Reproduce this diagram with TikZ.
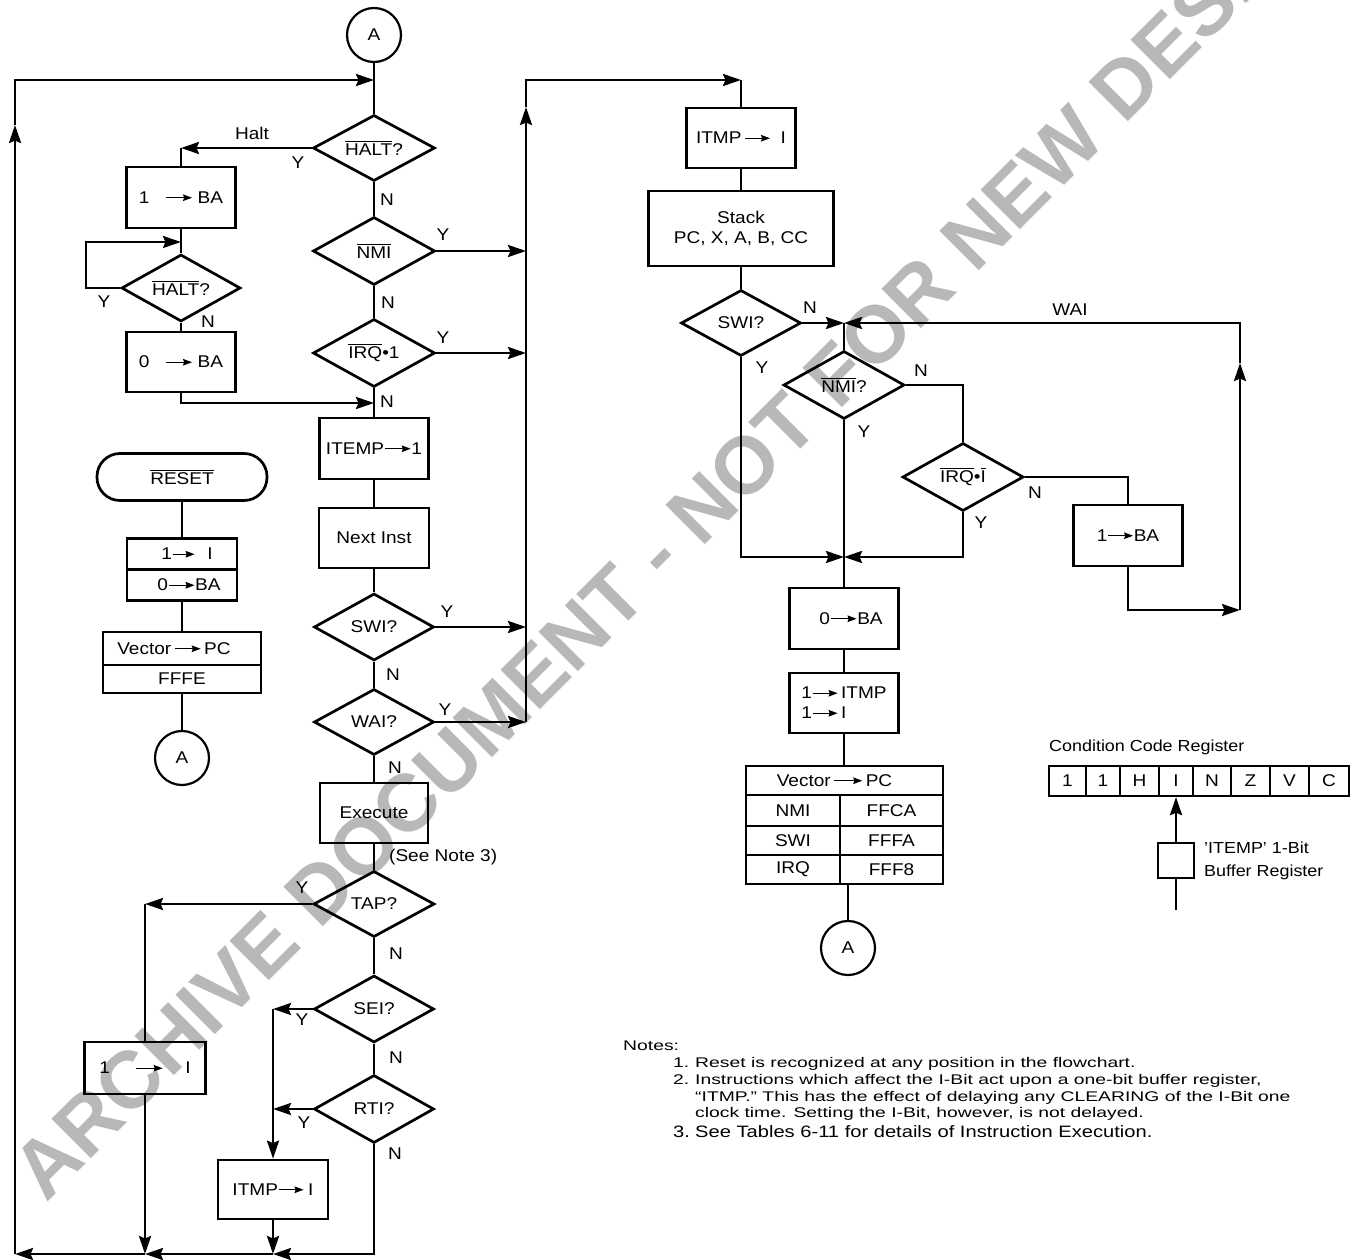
\documentclass[tikz,border=0pt]{standalone}
\usepackage{fontspec}
\setmainfont{Liberation Sans}[FakeStretch=1.12]
\newfontfamily\nfontfam{Liberation Sans}[FakeStretch=1.38]
\newfontfamily\nfontfamb{Liberation Sans}[FakeStretch=1.22]
\newfontfamily\wmfont{Liberation Sans}
\usetikzlibrary{shapes.geometric,arrows.meta,calc}
\newcommand\lbl{\fontsize{17pt}{20pt}\selectfont}
\newcommand\smlbl{\fontsize{16pt}{23pt}\selectfont}
\newcommand\nfont{\nfontfam\fontsize{14pt}{17pt}\selectfont}
\newcommand\nfontb{\nfontfamb\fontsize{16.5pt}{19pt}\selectfont}
\newcommand\ovl[1]{\leavevmode\vbox{\hrule height 1.1pt\kern1.6pt\hbox{#1}}}
\newcommand\tarrow[1]{\tikz[baseline={(0pt,-0.33em)}]\draw[line width=1.3pt,-{Stealth[length=9pt,width=6.5pt,inset=1pt]}] (0pt,0pt)--(#1,0pt);}
\newcommand\dianode[5]{\node[dia, minimum width=#3, minimum height=#4] (#1) at (#2) {}; \node[txt] (#1-t) at (#1) {#5};}
\begin{document}
\begin{tikzpicture}[x=1pt,y=-1pt,
  lw/.style={line width=2.7pt},
  line/.style={lw, line join=miter},
  arr/.style={line, -{Stealth[length=18pt,width=12pt,inset=2.5pt]}},
  box/.style={draw, lw, rectangle, inner sep=0pt, align=center, font=\lbl},
  dia/.style={draw, lw, diamond, inner sep=0pt},
  conn/.style={draw, circle, line width=2.2pt, minimum size=54pt, inner sep=0pt, font=\lbl},
  txt/.style={inner sep=0pt, font=\lbl, align=center},
  yn/.style={inner sep=0pt, font=\lbl},
  cell/.style={draw, line width=2.2pt, rectangle, inner sep=0pt, minimum height=30pt, font=\lbl},
  wm/.style={anchor=base west, rotate=45, inner sep=0pt, text=black!28, font=\wmfont\bfseries\fontsize{81pt}{81pt}\selectfont},
  note/.style={inner sep=0pt, anchor=base west, font=\nfont},
  noteb/.style={inner sep=0pt, anchor=base west, font=\nfontb}
]
\useasboundingbox (0,0) rectangle (1359,1260);
\fill[white] (0,0) rectangle (1359,1260);
% watermark
\node[wm] (wm) at (46,1204) {ARCHIVE DOCUMENT - NOT FOR NEW DESIGN};

% ---------- main column ----------
\node[conn] (A1) at (374,35) {A};
\dianode{halt1}{374,148}{122pt}{66pt}{\ovl{HALT}?}
\dianode{nmi1}{374,251}{122pt}{68pt}{\ovl{NMI}}
\dianode{irq1}{374,353}{122pt}{68pt}{\ovl{IRQ}•1}
\node[box, minimum width=109pt, minimum height=61pt] (itemp) at (374,448.5) {ITEMP\tarrow{26pt}1};
\node[box, minimum width=110pt, minimum height=60pt] (next) at (374,538) {Next Inst};
\dianode{swi1}{374,627}{120pt}{67pt}{SWI?}
\dianode{wai1}{374,722}{120pt}{66pt}{WAI?}
\node[box, minimum width=108pt, minimum height=60pt] (exec) at (374,813) {Execute};
\dianode{tap}{374,904}{121pt}{66pt}{TAP?}
\dianode{sei}{374,1009}{120pt}{67pt}{SEI?}
\dianode{rti}{374,1109}{120pt}{68pt}{RTI?}

\coordinate (jtop) at (374,80);
\coordinate (jba0) at (374,403);
\draw[line] (A1.south) -- (halt1.north);
\draw[line] (halt1.south) -- (nmi1.north);
\draw[line] (nmi1.south) -- (irq1.north);
\draw[line] (irq1.south) -- (itemp.north);
\draw[line] (itemp.south) -- (next.north);
\draw[line] (next.south) -- (swi1.north);
\draw[line] (swi1.south) -- (wai1.north);
\draw[line] (wai1.south) -- (exec.north);
\draw[line] (exec.south) -- (tap.north);
\draw[line] (tap.south) -- (sei.north);
\draw[line] (sei.south) -- (rti.north);

% ---------- halt loop ----------
\node[box, minimum width=109pt, minimum height=61pt] (ba1) at (181,197.5) {1\hspace{16pt}\tarrow{26pt}\hspace{5pt}BA};
\dianode{halt2}{181,288}{119pt}{67pt}{\ovl{HALT}?}
\node[box, minimum width=109pt, minimum height=60pt] (ba0) at (181,362) {0\hspace{16pt}\tarrow{26pt}\hspace{5pt}BA};
\coordinate (jh) at (181,148);
\coordinate (jloop) at (181,242);
\coordinate (lp1) at (86,288);
\coordinate (lp2) at (86,242);
\draw[arr] (halt1.west) -- (jh);
\draw[line] (jh) -- (ba1.north);
\draw[line] (ba1.south) -- (halt2.north);
\draw[arr] (halt2.west) -- (lp1) -- (lp2) -- (jloop);
\draw[line] (halt2.south) -- (ba0.north);
\draw[arr] (ba0.south) |- (jba0);

% ---------- bus to the right ----------
\coordinate (bustop) at (526,80);
\coordinate (bushead) at (526,107);
\coordinate (rtop) at (741,80);
\draw[arr] (nmi1.east) -- (nmi1.east -| bustop);
\draw[arr] (irq1.east) -- (irq1.east -| bustop);
\draw[arr] (swi1.east) -- (swi1.east -| bustop);
\draw[arr] (wai1.east) -- (wai1.east -| bustop);
\draw[arr] (wai1.east -| bustop) -- (bushead);
\draw[arr] (bushead) -- (bustop) -- (rtop);

% ---------- bottom left ----------
\node[box, minimum width=121pt, minimum height=52pt] (onei) at (145,1068) {1\hspace{25pt}\tarrow{27pt}\hspace{22pt}I};
\node[box, minimum width=110pt, minimum height=59pt] (itmp2) at (273,1189.5) {ITMP\tarrow{25pt}\hspace{4pt}I};
\coordinate (tl) at (145,904);
\coordinate (sl) at (273,1009);
\coordinate (rl) at (273,1109);
\coordinate (bl) at (15,1254);
\coordinate (b1) at (145,1254);
\coordinate (b2) at (273,1254);
\coordinate (b3) at (374,1254);
\coordinate (lup) at (15,125);
\coordinate (ltop) at (15,80);
\draw[arr] (tap.west) -- (tl);
\draw[line] (tl) -- (onei.north);
\draw[arr] (onei.south) -- (b1);
\draw[arr] (sei.west) -- (sl);
\draw[arr] (rti.west) -- (rl);
\draw[arr] (sl) -- (itmp2.north);
\draw[arr] (itmp2.south) -- (b2);
\draw[arr] (rti.south) -- (b3) -- (b2);
\draw[arr] (b2) -- (b1);
\draw[arr] (b1) -- (bl);
\draw[arr] (bl) -- (lup);
\draw[arr] (lup) -- (ltop) -- (jtop);

% ---------- reset ----------
\node[draw, lw, rounded corners=23pt, minimum width=170pt, minimum height=47pt, font=\lbl, inner sep=0pt] (reset) at (182,477) {\ovl{RESET}};
\node[box, minimum width=110pt, minimum height=31pt] (r1) at (182,554) {\hspace*{10pt}1\tarrow{22pt}\hspace{12pt}I};
\node[box, minimum width=110pt, minimum height=31pt] (r2) at (182,585) {\hspace*{14pt}0\tarrow{26pt}BA};
\node[box, minimum width=158pt, minimum height=33pt] (v1) at (182,648.5) {Vector\,\tarrow{26pt}\,PC\hspace*{16pt}};
\node[box, minimum width=158pt, minimum height=28pt] (v2) at (182,679) {FFFE};
\node[conn] (A2) at (182,758) {A};
\draw[line] (reset.south) -- (r1.north);
\draw[line] (r2.south) -- (v1.north);
\draw[line] (v2.south) -- (A2.north);

% ---------- right column ----------
\node[box, minimum width=109pt, minimum height=60pt] (itmp3) at (741,138) {ITMP\,\tarrow{25pt}\hspace{10pt}I};
\node[box, minimum width=185pt, minimum height=75pt] (stack) at (741,228.5) {Stack\\PC, X, A, B, CC};
\dianode{swi2}{741,323}{120pt}{66pt}{SWI?}
\dianode{nmi2}{844,385}{121pt}{68pt}{\ovl{NMI}?}
\dianode{irq2}{963,477}{121pt}{68pt}{\ovl{IRQ}•\ovl{I}}
\node[box, minimum width=109pt, minimum height=61pt] (ba1r) at (1128,535.5) {1\tarrow{25pt}BA};
\node[box, minimum width=109pt, minimum height=61pt] (ba0r) at (844,618.5) {\hspace*{14pt}0\tarrow{26pt}BA};
\node[box, minimum width=109pt, minimum height=60pt, align=left] (itmpb) at (844,703) {1\tarrow{25pt}\,ITMP\\1\tarrow{25pt}\,I};
\node[box, minimum width=197pt, minimum height=29pt] (th) at (844.5,780.5) {Vector\,\tarrow{28pt}\,PC\hspace*{20pt}};
\node[box, minimum width=94pt, minimum height=31pt] (t1a) at (793,810.5) {NMI};
\node[box, minimum width=103pt, minimum height=31pt] (t1b) at (891.5,810.5) {FFCA};
\node[box, minimum width=94pt, minimum height=29pt] (t2a) at (793,840.5) {SWI};
\node[box, minimum width=103pt, minimum height=29pt] (t2b) at (891.5,840.5) {FFFA};
\node[box, minimum width=94pt, minimum height=29pt] (t3a) at (793,869.5) {IRQ};
\node[box, minimum width=103pt, minimum height=29pt] (t3b) at (891.5,869.5) {FFF8};
\node[conn] (A3) at (848,948) {A};

\draw[line] (rtop) -- (itmp3.north);
\draw[line] (itmp3.south) -- (stack.north);
\draw[line] (stack.south) -- (swi2.north);
\coordinate (j1) at (844,323);
\coordinate (j2) at (844,557);
\coordinate (wr) at (1240,323);
\coordinate (wrb) at (1240,610);
\coordinate (wrh) at (1240,363);
\draw[arr] (swi2.east) -- (j1);
\draw[arr] (ba1r.south) |- (wrb);
\draw[arr] (wrb) -- (wrh);
\draw[arr] (wrh) -- (wr) -- (j1);
\draw[line] (j1) -- (nmi2.north);
\draw[line] (nmi2.east) -| (irq2.north);
\draw[line] (irq2.east) -| (ba1r.north);
\draw[arr] (swi2.south) |- (j2);
\draw[arr] (irq2.south) |- (j2);
\draw[line] (nmi2.south) -- (ba0r.north);
\draw[line] (ba0r.south) -- (itmpb.north);
\draw[line] (itmpb.south) -- (itmpb.south |- th.north);
\draw[line] (A3.north) -- (A3.north |- t3b.south);

% ---------- labels ----------
\node[yn] (lhalt) at (252,133) {Halt};
\node[yn] (y1) at (298,163) {Y};
\node[yn] (n1) at (387,200) {N};
\node[yn] (y2) at (443,235) {Y};
\node[yn] (n2) at (388,303) {N};
\node[yn] (y3) at (443,338) {Y};
\node[yn] (n3) at (387,402) {N};
\node[yn] (y4) at (104,302) {Y};
\node[yn] (n4) at (208,322) {N};
\node[yn] (y5) at (447,612) {Y};
\node[yn] (n5) at (393,675) {N};
\node[yn] (y6) at (445,710) {Y};
\node[yn] (n6) at (395,768) {N};
\node[yn, anchor=west] (see) at (389,857) {(See Note 3)};
\node[yn] (y7) at (302,888) {Y};
\node[yn] (n7) at (396,954) {N};
\node[yn] (y8) at (302,1020) {Y};
\node[yn] (n8) at (396,1058) {N};
\node[yn] (y9) at (304,1123) {Y};
\node[yn] (n9) at (395,1154) {N};
\node[yn] (n10) at (810,308) {N};
\node[yn] (y10) at (762,368) {Y};
\node[yn] (wai) at (1070,310) {WAI};
\node[yn] (n11) at (921,371) {N};
\node[yn] (y11) at (864,432) {Y};
\node[yn] (n12) at (1035,493) {N};
\node[yn] (y12) at (981,523) {Y};

% ---------- condition code register ----------
\node[yn, anchor=west, font=\smlbl] (ccrl) at (1049,747) {Condition Code Register};
\node[cell, minimum width=37pt] (c1) at (1067.5,781) {1};
\node[cell, minimum width=34pt] (c2) at (1103,781) {1};
\node[cell, minimum width=39pt] (c3) at (1139.5,781) {H};
\node[cell, minimum width=34pt] (c4) at (1176,781) {I};
\node[cell, minimum width=38pt] (c5) at (1212,781) {N};
\node[cell, minimum width=39pt] (c6) at (1250.5,781) {Z};
\node[cell, minimum width=39pt] (c7) at (1289.5,781) {V};
\node[cell, minimum width=40pt] (c8) at (1329,781) {C};
\node[draw, lw, minimum width=36pt, minimum height=35pt, inner sep=0pt] (sb) at (1176,860.5) {};
\coordinate (sbin) at (1176,910);
\draw[arr] (sb.north) -- (c4.south);
\draw[line] (sbin) -- (sb.south);
\node[yn, anchor=west, align=left, font=\smlbl] (sbt) at (1204,861) {’ITEMP’ 1-Bit\\Buffer Register};

% ---------- notes ----------
\node[note] (nh) at (623,1050) {Notes:};
\node[note] (n1n) at (673,1067) {1.};
\node[note] (n1t) at (695,1067) {Reset is recognized at any position in the flowchart.};
\node[note] (n2n) at (673,1084) {2.};
\node[note] (n2a) at (695,1084) {Instructions which affect the I-Bit act upon a one-bit buffer register,};
\node[note] (n2b) at (695,1101) {“ITMP.” This has the effect of delaying any CLEARING of the I-Bit one};
\node[note] (n2c) at (695,1117) {clock time. Setting the I-Bit, however, is not delayed.};
\node[noteb] (n3n) at (673,1137) {3.};
\node[noteb] (n3t) at (695,1137) {See Tables 6-11 for details of Instruction Execution.};
\end{tikzpicture}
\end{document}
